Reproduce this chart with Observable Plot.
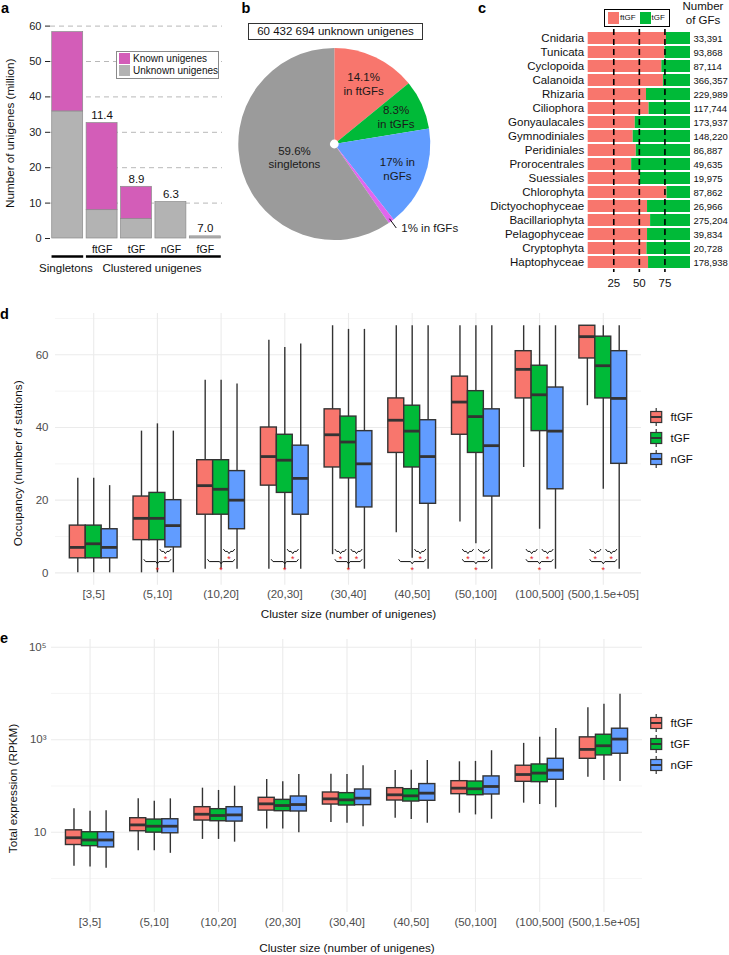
<!DOCTYPE html>
<html>
<head>
<meta charset="utf-8">
<script src="https://cdn.jsdelivr.net/npm/d3@7"></script>
<script src="https://cdn.jsdelivr.net/npm/@observablehq/plot@0.6"></script>
<style>
  body { margin: 0; background: #fff; }
  #root { position: relative; width: 729px; height: 955px; overflow: hidden;
          font-family: 'Liberation Sans', Arial, Helvetica, sans-serif; color: #111; background: #fff; }
  .box { position: absolute; box-sizing: border-box; }
  .sw { position: absolute; }
  .lt { position: absolute; white-space: nowrap; }
</style>
</head>
<body>
<div id="root"></div>
<script>
// ---------------- DATA ----------------
// Panel a
const aCategories = ["Singletons", "ftGF", "tGF", "nGF", "fGF"];
const aUnknown = [35.9, 8.0, 5.5, 10.3, 0.6];
const aKnown = [22.4, 24.6, 9.1, 0, 0];
const aBarLabels = ["", "11.4", "8.9", "6.3", "7.0"];
const aGroupNames = ["Singletons", "Clustered unigenes"];
const aGroupStart = [0, 1];
const aGroupEnd = [1, 5];
const aTicks = [0, 10, 20, 30, 40, 50, 60];
const aYTitle = "Number of unigenes (million)";
const aLegend = ["Known unigenes", "Unknown unigenes"];

// Panel b
const bTitle = "60 432 694 unknown unigenes";
const bSlices = ["ftGF", "tGF", "nGF", "fGF", "singletons"];
const bPercent = [14.1, 8.3, 17, 1, 59.6];
const bLabels = ["14.1%\nin ftGFs", "8.3%\nin tGFs", "17% in\nnGFs", "1% in fGFs", "59.6%\nsingletons"];

// Panel c
const cTaxa = ["Cnidaria", "Tunicata", "Cyclopoida", "Calanoida", "Rhizaria", "Ciliophora",
  "Gonyaulacales", "Gymnodiniales", "Peridiniales", "Prorocentrales", "Suessiales",
  "Chlorophyta", "Dictyochophyceae", "Bacillariophyta", "Pelagophyceae", "Cryptophyta", "Haptophyceae"];
const cFtGFPercent = [76.5, 75, 72, 73.5, 57, 59.5, 46, 44, 47, 42.5, 51, 77, 58, 61, 58, 57.5, 59];
const cCounts = ["33,391", "93,868", "87,114", "366,357", "229,989", "117,744", "173,937", "148,220",
  "86,887", "49,635", "19,975", "87,862", "26,966", "275,204", "39,834", "20,728", "178,938"];
const cTicks = [25, 50, 75];
const cHeader = "Number\nof GFs";

// Panels d, e
const sizeBins = ["[3,5]", "(5,10]", "(10,20]", "(20,30]", "(30,40]", "(40,50]", "(50,100]", "(100,500]", "(500,1.5e+05]"];
const gfTypes = ["ftGF", "tGF", "nGF"];
const gfColors = ["#F8766D", "#00BA38", "#619CFF"];
const xTitle = "Cluster size (number of unigenes)";

// d: [lower whisker, q1, median, q3, upper whisker] per size bin
const dOccFtGF = [[0,4,7,13,26],[0,9,15,21,39],[1,16,24,31,53],[1,24,32,40,64],[5,29,38,45,68],[11,33,42,48,68],[14,38,47,54,68],[29,48,56,61,68],[46,59,65,68,68]];
const dOccTGF  = [[0,4,8,13,26],[0,9,15,22,41],[1,16,23,31,53],[1,22,31,38,62],[1,26,36,43,67],[4,29,39,46,68],[8,33,43,50,68],[12,39,49,57,68],[23,48,57,65,68]];
const dOccNGF  = [[0,4,7,12,24],[0,7,13,20,39],[1,12,20,28,52],[1,16,26,35,63],[1,18,30,39,67],[1,19,32,42,68],[1,21,35,45,68],[1,23,39,51,68],[1,30,48,61,68]];
const dTicks = [0, 20, 40, 60];
const dMinorTicks = [10, 30, 50, 70];
const dYTitle = "Occupancy (number of stations)";
const dSigPairs = [
  [],
  [["tGF","nGF"],["ftGF","nGF"]],
  [["tGF","nGF"],["ftGF","nGF"]],
  [["tGF","nGF"],["ftGF","nGF"]],
  [["ftGF","tGF"],["tGF","nGF"],["ftGF","nGF"]],
  [["tGF","nGF"],["ftGF","nGF"]],
  [["ftGF","tGF"],["tGF","nGF"],["ftGF","nGF"]],
  [["ftGF","tGF"],["tGF","nGF"],["ftGF","nGF"]],
  [["ftGF","tGF"],["tGF","nGF"],["ftGF","nGF"]]
];

// e: total expression (RPKM), [lower whisker, q1, median, q3, upper whisker]
const eExpFtGF = [[1.84,5.3,7.6,11,32],[4.0,10.5,14.4,20.1,52.7],[7.0,17.9,24.5,34.8,89.7],[11.8,29.4,41.1,55.5,138],[16.2,39.7,52.7,72.3,180],[20.1,48.5,64.4,89.7,217],[25.8,66.5,89.7,127,333],[42.5,123,177,274,834],[155,387,618,1125,4930]];
const eExpTGF  = [[1.77,5.0,6.8,10,28.5],[4.0,9.8,13.5,18.8,46.9],[7.0,17.3,23,31.5,80],[11.8,28.5,37.8,50.1,123],[15.7,37.8,50.1,70,177],[18.8,46.1,61.2,85.3,220],[23.7,63.2,86.9,125,340],[39.7,121,190,292,1125],[131,458,741,1282,5820]];
const eExpNGF  = [[1.66,4.7,6.8,10,29],[3.5,9.5,13.5,19.1,52.7],[6.1,17,23.7,34.8,99],[9.7,28.1,39.7,59.3,177],[13.1,38.5,54.5,84,274],[15.7,47.8,70,110,356],[19.1,65.5,97.5,161,578],[33.7,136,220,387,1758],[125,498,1033,1730,9600]];
const eTicks = [10, 1e3, 1e5];
const eTickLabels = ["10", "10\u00B3", "10\u2075"];
const eMinorTicks = [1, 100, 1e4];
const eYTitle = "Total expression (RPKM)";

// ---------------- HELPERS ----------------
const FONT = "'Liberation Sans', Arial, Helvetica, sans-serif";
const root = document.getElementById("root");
function place(node, left, top) {
  node.style.position = "absolute";
  node.style.left = left + "px";
  node.style.top = top + "px";
  root.appendChild(node);
  return node;
}
const baseStyle = {fontFamily: FONT, fontSize: "11.5px", color: "#111", background: "transparent", overflow: "visible"};
const gfColor = d3.scaleOrdinal(gfTypes, gfColors);
function yTitleMark(text, dx, dy) {
  return Plot.text([text], {text: d => d, frameAnchor: "left", rotate: -90, dx, dy, textAnchor: "middle", lineAnchor: "middle", fontSize: 11.7, fill: "#111"});
}
function xTitleMark(text, dy) {
  return Plot.text([text], {text: d => d, frameAnchor: "bottom", dy, textAnchor: "middle", lineAnchor: "middle", fontSize: 11.7, fill: "#111"});
}

// ---------------- PANEL A ----------------
const aRows = aCategories.flatMap((c, i) => [
  {i, type: aLegend[1], y1: 0, y2: aUnknown[i]},
  {i, type: aLegend[0], y1: aUnknown[i], y2: aUnknown[i] + aKnown[i]}
]).filter(d => d.y2 > d.y1);
const aTotals = aCategories.map((c, i) => ({i, total: aUnknown[i] + aKnown[i], label: aBarLabels[i]}));
const aGroups = aGroupNames.map((g, k) => ({name: g, start: aGroupStart[k], end: aGroupEnd[k]}));

place(Plot.plot({
  width: 230, height: 280, marginLeft: 50, marginRight: 8, marginTop: 25.6, marginBottom: 42,
  x: {domain: [0, aCategories.length], axis: null},
  y: {domain: [0, 60], axis: null},
  color: {domain: aLegend, range: ["#D35DB8", "#B3B3B3"]},
  style: baseStyle,
  marks: [
    Plot.ruleY(aTicks.filter(t => t > 0), {stroke: "#b8b8b8", strokeDasharray: "5,4", strokeWidth: 1}),
    Plot.axisY({ticks: aTicks, tickSize: 5, tickPadding: 4, color: "#222", fontSize: 11, label: null}),
    Plot.rect(aRows, {x1: d => d.i + 0.05, x2: d => d.i + 0.95, y1: "y1", y2: "y2", fill: "type", stroke: "#8a8a8a", strokeWidth: 0.7}),
    Plot.text(aTotals.filter(d => d.label), {x: d => d.i + 0.5, y: "total", text: "label", dy: -8, fontSize: 11.5}),
    Plot.text(aCategories.map((c, i) => ({c, i})).filter(d => d.i > 0), {x: d => d.i + 0.5, y: 0, text: "c", dy: 11, fontSize: 10.5}),
    Plot.link(aGroups, {x1: d => d.start + 0.03, x2: d => d.end - 0.05, y1: 0, y2: 0, dy: 18, stroke: "#000", strokeWidth: 2.5}),
    Plot.text(aGroups, {x: d => (d.start + d.end) / 2 - 0.05, y: 0, text: "name", dy: 30, fontSize: 11.5}),
    yTitleMark(aYTitle, -40, 1)
  ]
}), 0, 0);

// legend of panel a
(function () {
  const box = document.createElement("div");
  box.className = "box";
  Object.assign(box.style, {width: "103px", height: "28px", border: "1px solid #8a8a8a", background: "#fff"});
  const cols = ["#D35DB8", "#B3B3B3"];
  aLegend.forEach((t, k) => {
    const sw = document.createElement("div");
    sw.className = "sw";
    Object.assign(sw.style, {left: "2px", top: (1 + k * 12) + "px", width: "11px", height: "11px", background: cols[k]});
    box.appendChild(sw);
    const tx = document.createElement("div");
    tx.className = "lt";
    Object.assign(tx.style, {left: "16px", top: (k * 12) + "px", fontSize: "10px", lineHeight: "13px"});
    tx.textContent = t;
    box.appendChild(tx);
  });
  place(box, 116, 51);
})();

// ---------------- PANEL B ----------------
const bPie = d3.pie().sort(null).value(d => d)(bPercent);
const bRows = bSlices.map((s, k) => {
  const a0 = bPie[k].startAngle, a1 = bPie[k].endAngle;
  return {slice: s, pct: bPercent[k], label: bLabels[k], a0, a1, mid: (a0 + a1) / 2};
});
const bColor = d3.scaleOrdinal(bSlices, ["#F8766D", "#00BA38", "#619CFF", "#E066EE", "#9B9B9B"]);
const labelR = d => d.pct > 50 ? 0.44 : 0.7;
const inside = bRows.filter(d => d.pct >= 2);
const outside = bRows.filter(d => d.pct < 2);

function pieRender(index, scales, values, dimensions) {
  let cx, cy, R;
  if (scales && scales.x && scales.y) {
    cx = scales.x(0); cy = scales.y(0); R = scales.x(1) - scales.x(0);
  } else {
    const {width, height, marginLeft, marginRight, marginTop, marginBottom} = dimensions;
    cx = marginLeft + (width - marginLeft - marginRight) / 2;
    cy = marginTop + (height - marginTop - marginBottom) / 2;
    R = (width - marginLeft - marginRight) / 2;
  }
  const g = d3.create("svg:g").attr("transform", `translate(${cx},${cy})`);
  const arc = d3.arc().innerRadius(0).outerRadius(R);
  g.selectAll("path").data(bRows).join("path")
    .attr("d", d => arc({startAngle: d.a0, endAngle: d.a1}))
    .attr("fill", d => bColor(d.slice));
  g.append("circle").attr("r", 4.4).attr("fill", "#fff");
  return g.node();
}

place(Plot.plot({
  width: 250, height: 250, marginLeft: 8.3, marginRight: 49.7, marginTop: 48, marginBottom: 10,
  x: {domain: [-1, 1], axis: null},
  y: {domain: [-1, 1], axis: null},
  style: baseStyle,
  marks: [
    pieRender,
    Plot.text(inside, {x: d => labelR(d) * Math.sin(d.mid), y: d => labelR(d) * Math.cos(d.mid), text: "label", fontSize: 11.5, lineHeight: 1.15, fill: "#1a1a1a"}),
    Plot.link(outside, {x1: d => 0.96 * Math.sin(d.mid), y1: d => 0.96 * Math.cos(d.mid), x2: d => 1.08 * Math.sin(d.mid), y2: d => 1.08 * Math.cos(d.mid), stroke: "#111", strokeWidth: 1}),
    Plot.text(outside, {x: d => 1.08 * Math.sin(d.mid), y: d => 1.08 * Math.cos(d.mid), text: "label", textAnchor: "start", dx: 5, dy: 0, fontSize: 11.5, fill: "#1a1a1a"})
  ]
}), 230, 0);

(function () {
  const box = document.createElement("div");
  box.className = "box";
  Object.assign(box.style, {width: "175px", height: "17px", border: "1px solid #333", fontSize: "11.5px", lineHeight: "15px", textAlign: "center", background: "#fff"});
  box.textContent = bTitle;
  place(box, 248, 23);
})();

// ---------------- PANEL C ----------------
const cRows = cTaxa.map((t, i) => ({taxon: t, ft: cFtGFPercent[i], count: cCounts[i]}));
place(Plot.plot({
  width: 249, height: 300, marginLeft: 107.7, marginRight: 39, marginTop: 29, marginBottom: 28,
  x: {domain: [0, 100], axis: null},
  y: {domain: cTaxa, paddingInner: 0.133, paddingOuter: 0.133, axis: null},
  style: baseStyle,
  marks: [
    Plot.barX(cRows, {y: "taxon", x1: 0, x2: "ft", fill: "#F8766D"}),
    Plot.barX(cRows, {y: "taxon", x1: "ft", x2: 100, fill: "#00BA38"}),
    Plot.ruleX(cTicks, {stroke: "#000", strokeWidth: 1.6, strokeDasharray: "6,4"}),
    Plot.axisY({tickSize: 0, tickPadding: 4, color: "#111", label: null}),
    Plot.axisX({ticks: cTicks, tickSize: 0, tickPadding: 6, color: "#111", label: null}),
    Plot.text(cRows, {x: 100, y: "taxon", text: "count", textAnchor: "start", dx: 3, fontSize: 9.5})
  ]
}), 480, 0);

(function () {
  const hd = document.createElement("div");
  hd.className = "lt";
  Object.assign(hd.style, {width: "60px", textAlign: "center", fontSize: "11.5px", lineHeight: "13.5px", whiteSpace: "pre"});
  hd.textContent = cHeader;
  place(hd, 673, 0);
  const box = document.createElement("div");
  box.className = "box";
  Object.assign(box.style, {width: "66px", height: "18px", border: "1.5px solid #000", background: "#fff"});
  const specs = [{t: "ftGF", c: "#F8766D", l: 3}, {t: "tGF", c: "#00BA38", l: 34.5}];
  specs.forEach(s => {
    const sw = document.createElement("div");
    sw.className = "sw";
    Object.assign(sw.style, {left: s.l + "px", top: "1.5px", width: "11px", height: "12px", background: s.c});
    box.appendChild(sw);
    const tx = document.createElement("div");
    tx.className = "lt";
    Object.assign(tx.style, {left: (s.l + 12) + "px", top: "1px", fontSize: "8px", lineHeight: "13px"});
    tx.textContent = s.t;
    box.appendChild(tx);
  });
  place(box, 604, 9);
})();

// ---------------- BOX PLOT HELPERS ----------------
function boxRows(seriesList) {
  return sizeBins.flatMap((bin, i) => gfTypes.map((type, j) => {
    const [low, q1, med, q3, high] = seriesList[j][i];
    return {bin, i, type, xc: i + (j - 1) * 0.25, low, q1, med, q3, high};
  }));
}
function boxMarks(rows) {
  return [
    Plot.ruleX(rows, {x: "xc", y1: "low", y2: "high", stroke: "#333", strokeWidth: 1.4}),
    Plot.rect(rows, {x1: d => d.xc - 0.125, x2: d => d.xc + 0.125, y1: "q1", y2: "q3", fill: "type", stroke: "#333", strokeWidth: 1.4}),
    Plot.ruleY(rows, {y: "med", x1: d => d.xc - 0.125, x2: d => d.xc + 0.125, stroke: "#333", strokeWidth: 2.8})
  ];
}
function addBoxLegend(top) {
  const svg = d3.create("svg").attr("width", 80).attr("height", 70);
  gfTypes.forEach((t, k) => {
    const cy = 14 + k * 21;
    svg.append("line").attr("x1", 11.2).attr("x2", 11.2).attr("y1", cy - 9).attr("y2", cy + 9).attr("stroke", "#333").attr("stroke-width", 1.2);
    svg.append("rect").attr("x", 5.7).attr("y", cy - 5.5).attr("width", 11).attr("height", 11).attr("fill", gfColor(t)).attr("stroke", "#333").attr("stroke-width", 1.2);
    svg.append("line").attr("x1", 5.7).attr("x2", 16.7).attr("y1", cy).attr("y2", cy).attr("stroke", "#333").attr("stroke-width", 2);
    svg.append("text").attr("x", 25.5).attr("y", cy).attr("dy", "0.36em").attr("font-size", 11.5).attr("font-family", FONT).attr("fill", "#111").text(t);
  });
  place(svg.node(), 645, top);
}

// ---------------- PANEL D ----------------
const dRows = boxRows([dOccFtGF, dOccTGF, dOccNGF]);
const braceRows = [];
const starRows = [];
dSigPairs.forEach((pairs, i) => pairs.forEach(([a, b], k) => {
  const ja = gfTypes.indexOf(a), jb = gfTypes.indexOf(b);
  const xa = i + (ja - 1) * 0.25 + 0.04, xb = i + (jb - 1) * 0.25 - 0.04, xm = (xa + xb) / 2;
  const upper = jb - ja === 1;
  const yb = upper ? 5.9 : 3.1, tip = 0.6, curl = 0.55, e = 0.025;
  const id = i + "-" + k;
  [[xa, yb + curl], [xa + e, yb], [xm - e, yb], [xm, yb - tip], [xm + e, yb], [xb - e, yb], [xb, yb + curl]]
    .forEach(([x, y]) => braceRows.push({id, x, y}));
  starRows.push({x: xm, y: upper ? 4.3 : 1.4});
}));

place(Plot.plot({
  width: 729, height: 325, marginLeft: 55, marginRight: 88, marginTop: 12.9, marginBottom: 40.3,
  x: {domain: [-0.6, 8.6], axis: null},
  y: {domain: [-3.4, 71.4], axis: null},
  color: {domain: gfTypes, range: gfColors},
  style: baseStyle,
  marks: [
    Plot.ruleY(dMinorTicks, {stroke: "#F0F0F0", strokeWidth: 0.7}),
    Plot.ruleY(dTicks, {stroke: "#EBEBEB", strokeWidth: 1.1}),
    Plot.ruleX(d3.range(sizeBins.length), {stroke: "#EBEBEB", strokeWidth: 1.1}),
    Plot.axisY({ticks: dTicks, tickSize: 0, tickPadding: 7, color: "#4D4D4D", label: null}),
    Plot.axisX({ticks: d3.range(sizeBins.length), tickFormat: i => sizeBins[i], tickSize: 0, tickPadding: 5, color: "#4D4D4D", label: null}),
    ...boxMarks(dRows),
    Plot.line(braceRows, {x: "x", y: "y", z: "id", stroke: "#111", strokeWidth: 1, curve: "linear"}),
    Plot.text(starRows, {x: "x", y: "y", text: () => "*", fill: "#E41A1C", fontSize: 9, dy: 2}),
    xTitleMark(xTitle, 29),
    yTitleMark(dYTitle, -37, 14)
  ]
}), 0, 300);
addBoxLegend(403);

// ---------------- PANEL E ----------------
const eRows = boxRows([eExpFtGF, eExpTGF, eExpNGF]);
place(Plot.plot({
  width: 729, height: 325, marginLeft: 51, marginRight: 87, marginTop: 9, marginBottom: 43,
  x: {domain: [-0.6, 8.6], axis: null},
  y: {type: "log", domain: [0.184, 146800], axis: null},
  color: {domain: gfTypes, range: gfColors},
  style: baseStyle,
  marks: [
    Plot.ruleY(eMinorTicks, {stroke: "#F0F0F0", strokeWidth: 0.7}),
    Plot.ruleY(eTicks, {stroke: "#EBEBEB", strokeWidth: 1.1}),
    Plot.ruleX(d3.range(sizeBins.length), {stroke: "#EBEBEB", strokeWidth: 1.1}),
    Plot.axisY({ticks: eTicks, tickFormat: v => eTickLabels[eTicks.indexOf(v)], tickSize: 0, tickPadding: 5, color: "#4D4D4D", label: null}),
    Plot.axisX({ticks: d3.range(sizeBins.length), tickFormat: i => sizeBins[i], tickSize: 0, tickPadding: 5, color: "#4D4D4D", label: null}),
    ...boxMarks(eRows),
    xTitleMark(xTitle, 36),
    yTitleMark(eYTitle, -38, 12.5)
  ]
}), 0, 630);
addBoxLegend(709);

// ---------------- PANEL LETTERS ----------------
(function () {
  const svg = d3.create("svg").attr("width", 729).attr("height", 955).style("pointer-events", "none");
  const letters = [{t: "a", x: 1, y: 12.5}, {t: "b", x: 241.5, y: 12.5}, {t: "c", x: 478, y: 12.5}, {t: "d", x: 0, y: 318.5}, {t: "e", x: 0, y: 643}];
  letters.forEach(l => svg.append("text").attr("x", l.x).attr("y", l.y).attr("font-size", 14.5).attr("font-weight", "bold").attr("font-family", FONT).attr("fill", "#000").text(l.t));
  place(svg.node(), 0, 0);
})();
</script>
</body>
</html>
